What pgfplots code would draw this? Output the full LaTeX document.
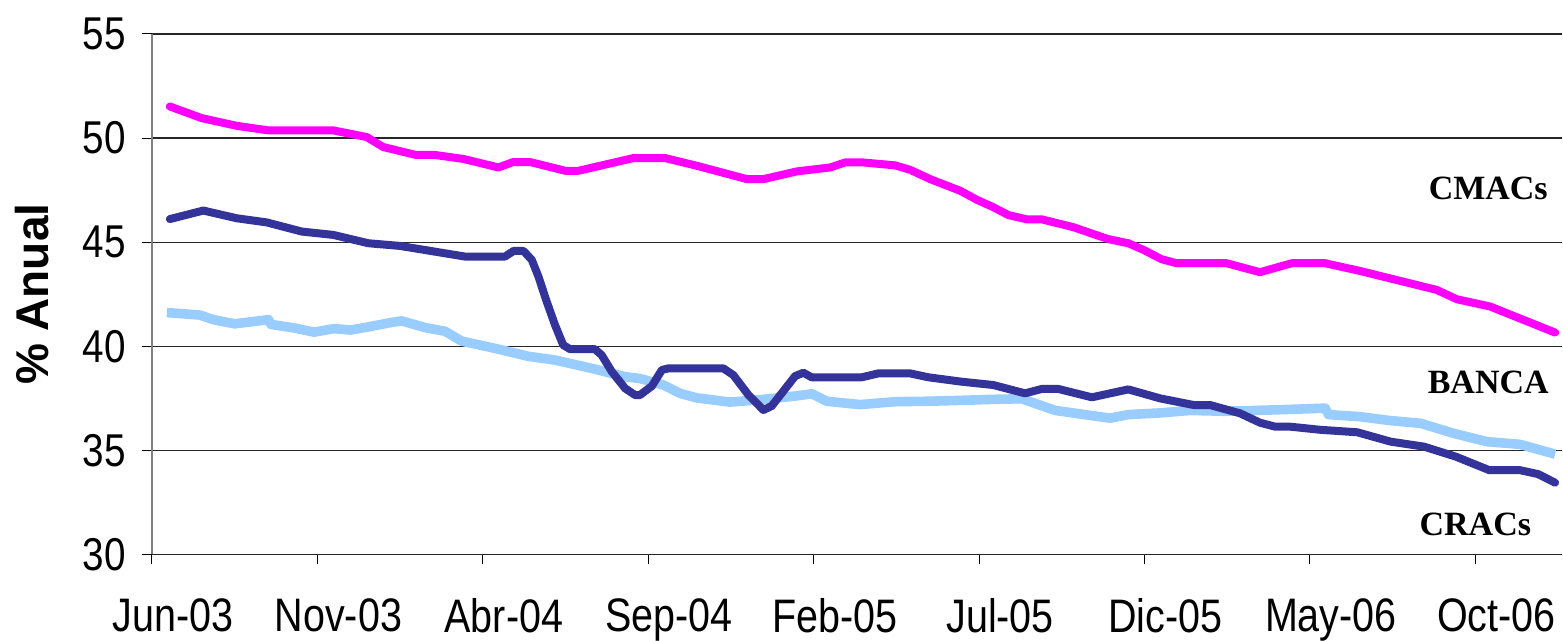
\documentclass[border=0pt]{standalone}
\usepackage{pgfplots}
\pgfplotsset{compat=1.18}
\usepackage{fontspec}
\setmainfont{Liberation Sans}
\newfontfamily\tickfont[FakeStretch=0.84]{Liberation Sans}
\newfontfamily\serifb{Liberation Serif}
\definecolor{cmac}{HTML}{FF00FF}
\definecolor{banca}{HTML}{333399}
\definecolor{crac}{HTML}{99CCFF}
\begin{document}
\begin{tikzpicture}
\useasboundingbox (0,0) rectangle (781.5pt,320.5pt);
\begin{axis}[
  at={(76pt,43.25pt)}, anchor=south west,
  scale only axis, width=705pt, height=260.25pt,
  xmin=0, xmax=42.62, ymin=30, ymax=55,
  axis x line*=bottom, axis y line*=left,
  x axis line style={black!85, line width=0.6pt},
  y axis line style={black!50, line width=0.9pt},
  xtick={0,5,...,40},
  xticklabels={Jun-03,Nov-03,Abr-04,Sep-04,Feb-05,Jul-05,Dic-05,May-06,Oct-06},
  ytick={30,35,...,55},
  yticklabels={30,35,40,45,50,55},
  /pgf/number format/assume math mode=true,
  tick align=outside, major tick length=5pt,
  tick style={black, line width=0.5pt},
  ymajorgrids, grid style={black!85, line width=0.6pt},
  xticklabel style={font=\tickfont\fontsize{23.5}{27}\selectfont, anchor=north, inner sep=0pt, xshift=10.5pt, yshift=-17pt},
  yticklabel style={font=\tickfont\fontsize{23}{27}\selectfont, anchor=east, inner sep=0pt, xshift=-8pt},
  ylabel={\bfseries\% Anual},
  ylabel style={font=\fontsize{23}{27}\selectfont, at={(axis description cs:-0.08475,0.5)}, anchor=center},
  every axis plot/.append style={line join=round},
]
% CMACs
\addplot[cmac, line width=4pt, line cap=round] coordinates {
(0.54,51.52) (1.50,50.96) (2.56,50.59) (3.52,50.37) (5.48,50.37) (6.49,50.05)
(6.99,49.57) (7.95,49.20) (8.50,49.20) (9.41,49.00) (10.47,48.59) (10.92,48.85)
(11.43,48.85) (12.49,48.43) (12.89,48.43) (14.55,49.04) (15.51,49.04) (16.47,48.67)
(17.98,48.03) (18.48,48.03) (19.49,48.40) (20.50,48.59) (20.95,48.83) (21.50,48.83)
(22.46,48.69) (22.91,48.48) (23.52,48.03) (24.43,47.47) (24.93,47.04) (25.43,46.68)
(25.89,46.30) (26.44,46.10) (26.89,46.10) (27.85,45.72) (28.90,45.15) (29.51,44.95)
(29.97,44.63) (30.52,44.18) (30.97,43.99) (32.48,43.99) (33.49,43.56) (34.45,43.99)
(35.46,43.99) (36.51,43.62) (38.83,42.71) (39.44,42.26) (40.45,41.91) (42.41,40.66)
};
% CRACs (light blue)
\addplot[crac, line width=4.8pt] coordinates {
(0.45,41.62) (1.45,41.50) (1.85,41.28) (2.50,41.08) (3.52,41.28) (3.60,41.05)
(4.30,40.88) (4.90,40.68) (5.50,40.85) (6.00,40.78) (6.50,40.92) (7.25,41.15)
(7.55,41.22) (8.25,40.90) (8.86,40.72) (9.36,40.25) (10.37,39.90) (11.37,39.52)
(12.18,39.34) (13.29,38.94) (14.30,38.54) (14.75,38.45) (15.46,38.14) (15.96,37.74)
(16.47,37.52) (17.47,37.32) (18.48,37.45) (19.49,37.62) (19.95,37.72) (20.40,37.36)
(21.40,37.20) (22.46,37.34) (23.42,37.36) (24.40,37.40) (25.40,37.45) (26.29,37.48)
(27.30,36.92) (28.50,36.65) (28.96,36.55) (29.51,36.72) (30.47,36.80) (31.38,36.92)
(32.40,36.88) (33.39,36.92) (34.40,36.97) (35.46,37.03) (35.56,36.72) (36.51,36.62)
(37.44,36.43) (38.35,36.30) (39.34,35.82) (40.35,35.42) (41.35,35.29) (42.41,34.82)
};
% BANCA (dark blue)
\addplot[banca, line width=4pt, line cap=round] coordinates {
(0.54,46.11) (1.55,46.52) (2.56,46.15) (3.47,45.95) (4.53,45.51) (5.48,45.35)
(6.54,44.95) (7.50,44.82) (9.46,44.31) (10.67,44.31) (10.93,44.58) (11.23,44.58)
(11.48,44.15) (11.68,43.35) (11.93,42.15) (12.18,41.03) (12.43,40.06) (12.64,39.86)
(13.39,39.86) (13.59,39.58) (13.90,38.78) (14.30,37.98) (14.60,37.66) (14.75,37.66)
(15.11,38.09) (15.41,38.86) (15.61,38.94) (17.27,38.94) (17.57,38.62) (18.03,37.66)
(18.48,36.94) (18.73,37.13) (19.44,38.57) (19.69,38.73) (19.94,38.51) (21.45,38.51)
(21.96,38.70) (22.91,38.70) (23.47,38.51) (24.47,38.30) (25.43,38.14) (26.39,37.74)
(26.89,37.95) (27.40,37.95) (28.41,37.55) (29.51,37.93) (30.47,37.50) (31.48,37.18)
(31.98,37.18) (32.89,36.78) (33.49,36.33) (33.95,36.14) (34.40,36.14) (35.31,35.99)
(36.43,35.87) (37.44,35.42) (38.45,35.18) (39.41,34.70) (40.42,34.05) (41.35,34.05)
(41.90,33.86) (42.41,33.45)
};
\node[font=\serifb\bfseries\fontsize{17}{20}\selectfont] at (axis cs:40.39,47.58) {CMACs};
\node[font=\serifb\bfseries\fontsize{17}{20}\selectfont] at (axis cs:40.39,38.26) {BANCA};
\node[font=\serifb\bfseries\fontsize{17}{20}\selectfont] at (axis cs:40.00,31.44) {CRACs};
\end{axis}
\end{tikzpicture}
\end{document}
